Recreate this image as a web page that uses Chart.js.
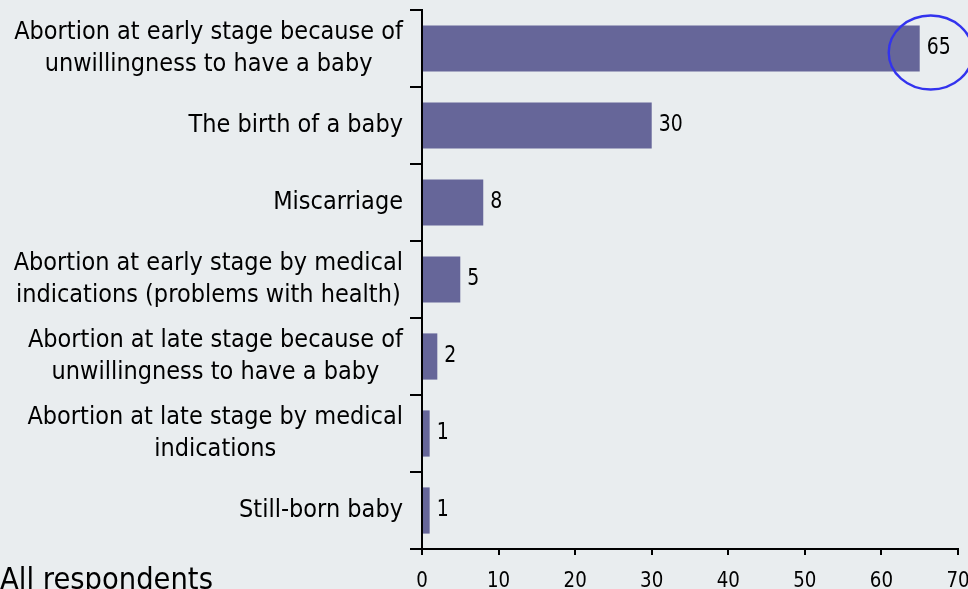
<!DOCTYPE html>
<html><head><meta charset="utf-8">
<script src="https://cdn.jsdelivr.net/npm/chart.js@4"></script>
<style>html,body{margin:0;padding:0;background:#E9EDEF;overflow:hidden}canvas{display:block}</style>
</head><body>
<canvas id="c" width="968" height="589"></canvas>
<script>
const categories = [
  ["Abortion at early stage because of", "unwillingness to have a baby"],
  ["The birth of a baby"],
  ["Miscarriage"],
  ["Abortion at early stage by medical", "indications (problems with health)"],
  ["Abortion at late stage because of", "unwillingness to have a baby"],
  ["Abortion at late stage by medical", "indications"],
  ["Still-born baby"]
];
const values = [65, 30, 8, 5, 2, 1, 1];
const xTicks = [0, 10, 20, 30, 40, 50, 60, 70];
const footnote = "All respondents";
const highlightIndex = 0;

const BG = '#E9EDEF';
const BAR = '#666699';

const mctx = document.createElement('canvas').getContext('2d');
const FAM = '"DejaVu Sans", Verdana, sans-serif';
function fitSize(text, target) {
  mctx.font = '100px ' + FAM;
  return 100 * target / mctx.measureText(text).width;
}
const labelSize = fitSize("Abortion at early stage because of", 389);
const valueSize = labelSize * 0.84;
const tickSize = labelSize * 0.81;
const footSize = fitSize(footnote, 213);
const STRETCH = 1.13;   // reference face is taller for its width
const VALUE_STRETCH = 1.22;
const LINE_H = 32;

function sText(ctx, t, x, y, k) {
  ctx.save();
  ctx.translate(x, y);
  ctx.scale(1, k || STRETCH);
  ctx.fillText(t, 0, 0);
  ctx.restore();
}

const deco = {
  id: 'deco',
  beforeDraw(chart) {
    const ctx = chart.ctx;
    ctx.save();
    ctx.fillStyle = BG;
    ctx.fillRect(0, 0, chart.width, chart.height);
    ctx.restore();
  },
  afterDraw(chart) {
    const ctx = chart.ctx;
    const ys = chart.scales.y;
    const xs = chart.scales.x;
    const meta = chart.getDatasetMeta(0);
    ctx.save();
    ctx.fillStyle = '#000';
    // category labels
    ctx.font = labelSize + 'px ' + FAM;
    ctx.textAlign = 'center';
    ctx.textBaseline = 'middle';
    categories.forEach((lines, i) => {
      const cy = ys.getPixelForValue(i);
      const w = Math.max(...lines.map(l => ctx.measureText(l).width));
      const cx = ys.right - 19 - w / 2;
      lines.forEach((l, k) => sText(ctx, l, cx, cy + (k - (lines.length - 1) / 2) * LINE_H));
    });
    // value labels
    ctx.font = valueSize + 'px ' + FAM;
    ctx.textAlign = 'left';
    meta.data.forEach((bar, i) => sText(ctx, String(values[i]), bar.x + 7, bar.y, VALUE_STRETCH));
    // x tick labels
    ctx.font = tickSize + 'px ' + FAM;
    ctx.textAlign = 'center';
    ctx.textBaseline = 'alphabetic';
    xTicks.forEach(v => sText(ctx, String(v), xs.getPixelForValue(v), 587));
    // highlight ellipse
    const hb = meta.data[highlightIndex];
    ctx.strokeStyle = '#3333EE';
    ctx.lineWidth = 2.4;
    ctx.beginPath();
    ctx.ellipse(hb.x + 11, hb.y + 4, 42, 37, 0, 0, Math.PI * 2);
    ctx.stroke();
    // footnote
    ctx.font = footSize + 'px ' + FAM;
    ctx.textAlign = 'left';
    sText(ctx, footnote, 0, 589);
    ctx.restore();
  }
};

new Chart(document.getElementById('c'), {
  type: 'bar',
  data: {
    labels: categories.map(c => c.join(' ')),
    datasets: [{ data: values, backgroundColor: BAR, borderWidth: 0, barPercentage: 0.6, categoryPercentage: 1 }]
  },
  options: {
    indexAxis: 'y',
    responsive: false,
    animation: false,
    devicePixelRatio: 1,
    layout: { padding: { top: 10, right: 10, left: 0, bottom: 0 } },
    plugins: { legend: { display: false }, tooltip: { enabled: false } },
    scales: {
      x: {
        min: 0, max: 70,
        afterBuildTicks(s) { s.ticks = xTicks.map(v => ({ value: v })); },
        ticks: { display: false },
        grid: { drawOnChartArea: false, drawTicks: true, tickLength: 6, color: '#000', lineWidth: 2 },
        border: { color: '#000', width: 2 },
        afterFit(s) { s.height = 40; s.paddingRight = 0; s.paddingLeft = 0; }
      },
      y: {
        ticks: { display: false },
        grid: { drawOnChartArea: false, drawTicks: true, tickLength: 12, color: '#000', lineWidth: 2, offset: true },
        border: { color: '#000', width: 2 },
        afterFit(s) { s.width = 422; s.paddingTop = 0; s.paddingBottom = 0; }
      }
    }
  },
  plugins: [deco]
});
</script>
</body></html>
